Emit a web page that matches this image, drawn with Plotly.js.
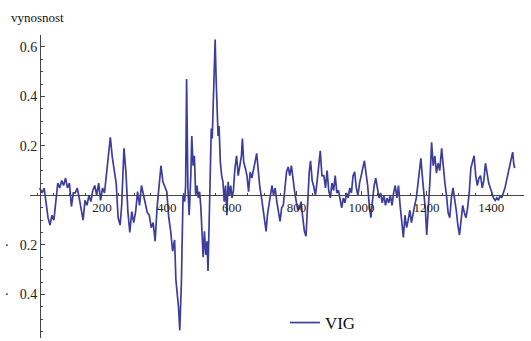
<!DOCTYPE html>
<html><head><meta charset="utf-8">
<script src="https://cdn.plot.ly/plotly-3.0.1.min.js"></script>
<style>html,body{margin:0;padding:0;background:#fff}#chart{width:531px;height:341px}</style>
</head><body><div id="chart"></div>
<script>
const seriesName = "VIG";
const yTitle = "vynosnost";
const xTickVals = [200, 400, 600, 800, 1000, 1200, 1400];
const xTickText = ["200", "400", "600", "800", "1000", "1200", "1400"];
const yTickVals = [-0.4, -0.2, 0.2, 0.4, 0.6];
const yTickText = ["\u00b7\u00a0\u00a0\u00a00.4", "\u00b7\u00a0\u00a0\u00a00.2", "0.2", "0.4", "0.6"];

const xs = [8,16,22,28,34,40,46,52,58,64,70,76,82,88,94,100,106,112,118,124,130,136,142,148,154,160,166,172,178,184,190,196,202,208,214,220,226,232,238,244,250,256,261,265,268,274,280,286,292,298,304,310,316,322,328,334,340,346,352,358,364,370,376,382,388,394,400,406,412,418,424,428,432,436,440,445,450,455,458,461,465,469,474,477,481,485,489,493,497,501,505,509,512,516,520,524,527,531,534,537,540,543,546,549,552,555,558,561,565,569,573,577,581,585,589,593,597,601,605,610,615,620,625,630,633,637,642,647,652,657,662,667,672,677,682,687,692,697,702,706,710,714,719,724,729,734,739,744,749,754,759,764,769,774,779,784,789,794,799,804,809,814,819,824,829,834,839,843,848,853,858,863,868,873,878,884,889,894,899,904,909,914,919,924,929,934,939,944,949,954,959,964,969,974,979,984,989,994,999,1004,1009,1014,1019,1024,1029,1034,1039,1044,1049,1054,1059,1064,1069,1074,1079,1084,1089,1094,1099,1104,1109,1114,1119,1124,1129,1134,1139,1144,1149,1154,1159,1164,1169,1174,1179,1183,1188,1192,1197,1201,1206,1211,1216,1221,1226,1231,1236,1241,1247,1252,1257,1262,1267,1272,1277,1282,1287,1292,1297,1302,1307,1312,1317,1322,1327,1332,1337,1342,1347,1352,1357,1362,1367,1372,1377,1382,1387,1392,1397,1402,1407,1412,1417,1422,1427,1432,1437,1442,1447,1452,1457,1462,1466,1469,1472];
const ys = [0.03,0.01,0.03,-0.04,-0.09,-0.12,-0.08,-0.10,-0.03,0.05,0.03,0.06,0.04,0.07,0.03,0.05,-0.045,0.01,0.01,0.03,-0.01,-0.06,-0.10,-0.02,-0.04,0.0,-0.025,0.02,0.04,0.0,0.05,-0.02,0.03,0.01,0.09,0.14,0.235,0.155,0.10,0.05,-0.09,-0.12,-0.04,0.10,0.19,0.095,-0.065,-0.15,-0.065,-0.11,-0.065,0.015,-0.04,0.04,0.0,-0.025,-0.07,-0.08,-0.13,-0.11,-0.185,-0.05,0.04,0.12,0.055,0.03,0.015,-0.09,-0.145,-0.225,-0.18,-0.34,-0.39,-0.45,-0.545,-0.35,0.0,-0.025,0.04,0.47,0.03,-0.08,0.08,0.24,0.12,0.16,0.0,0.04,-0.01,0.015,-0.05,-0.145,-0.25,-0.145,-0.24,-0.185,-0.305,-0.08,0.135,0.27,0.23,0.35,0.47,0.63,0.47,0.335,0.24,0.28,0.135,0.08,0.055,-0.025,0.04,-0.08,0.055,0.0,0.04,-0.01,0.015,0.11,0.16,0.08,0.12,0.16,0.23,0.135,0.11,0.08,0.015,0.095,0.07,0.11,0.135,0.17,0.095,0.03,-0.01,-0.065,-0.12,-0.145,-0.08,-0.05,0.0,0.04,0.0,0.03,-0.025,-0.065,-0.105,-0.05,-0.04,0.03,0.095,0.115,0.08,0.12,0.055,0.015,-0.025,-0.06,-0.05,-0.025,-0.09,-0.145,-0.165,-0.025,0.095,0.14,0.06,0.035,0.0,0.055,0.11,0.18,0.08,0.08,0.03,0.10,0.02,-0.01,0.05,0.02,0.08,0.01,0.02,-0.02,-0.05,-0.01,-0.03,0.01,-0.01,0.03,0.01,0.08,0.095,0.03,0.0,0.05,0.08,0.12,0.14,0.09,0.04,-0.04,-0.09,-0.02,0.04,0.07,0.02,-0.01,0.01,-0.03,0.0,-0.04,-0.01,-0.03,0.0,-0.04,0.01,0.04,-0.01,0.04,-0.04,-0.12,-0.17,-0.08,-0.13,-0.10,-0.06,-0.11,-0.07,-0.04,-0.01,0.05,0.10,0.15,0.07,0.01,-0.06,-0.16,-0.06,0.06,0.215,0.12,0.16,0.09,0.13,0.10,0.19,0.10,0.05,0.0,-0.07,-0.09,-0.01,0.03,-0.01,-0.06,-0.12,-0.16,-0.10,-0.04,-0.07,-0.09,-0.05,0.01,0.11,0.14,0.16,0.08,0.04,0.07,0.08,0.03,0.06,0.13,0.09,0.05,0.03,0.01,-0.01,-0.02,-0.01,-0.02,0.0,-0.01,0.01,0.03,0.06,0.09,0.12,0.14,0.175,0.13,0.11];

const serif = "'Liberation Serif', 'DejaVu Serif', serif";
const axisColor = "#444";

const trace = {
  x: xs, y: ys, type: "scatter", mode: "lines", name: seriesName,
  line: {color: "#3d3d9c", width: 1.7}
};

const layout = {
  width: 531, height: 341,
  margin: {l: 30, r: 7, t: 35, b: 0, pad: 0},
  paper_bgcolor: "#fff", plot_bgcolor: "#fff",
  showlegend: true,
  legend: {x: 0.516, y: 0.049, xanchor: "left", yanchor: "middle",
           font: {family: serif, size: 17, color: "#111"}, bgcolor: "rgba(0,0,0,0)"},
  xaxis: {
    range: [-21.6, 1500.8], anchor: "free", position: 0.4706,
    showgrid: false, zeroline: false, showline: true, linecolor: axisColor, linewidth: 1,
    ticks: "inside", ticklen: 4, tickcolor: axisColor, tickwidth: 1,
    tickvals: xTickVals, ticktext: xTickText,
    tickfont: {family: serif, size: 13, color: "#222"},
    minor: {ticks: "inside", ticklen: 2, dtick: 50, tick0: 0, tickcolor: axisColor, showgrid: false}
  },
  yaxis: {
    range: [-0.576, 0.648], anchor: "free", position: 0.0202,
    showgrid: false, zeroline: false, showline: true, linecolor: axisColor, linewidth: 1,
    ticks: "inside", ticklen: 4, tickcolor: axisColor, tickwidth: 1,
    tickvals: yTickVals, ticktext: yTickText,
    tickfont: {family: serif, size: 14, color: "#222"},
    minor: {ticks: "inside", ticklen: 2, dtick: 0.05, tick0: 0, tickcolor: axisColor, showgrid: false}
  },
  annotations: [{
    text: yTitle, xref: "paper", yref: "paper", x: -0.0425, y: 1.0588,
    xanchor: "left", yanchor: "middle", showarrow: false,
    font: {family: serif, size: 13, color: "#111"}
  }]
};

Plotly.newPlot("chart", [trace], layout, {staticPlot: true, displayModeBar: false});
</script></body></html>
